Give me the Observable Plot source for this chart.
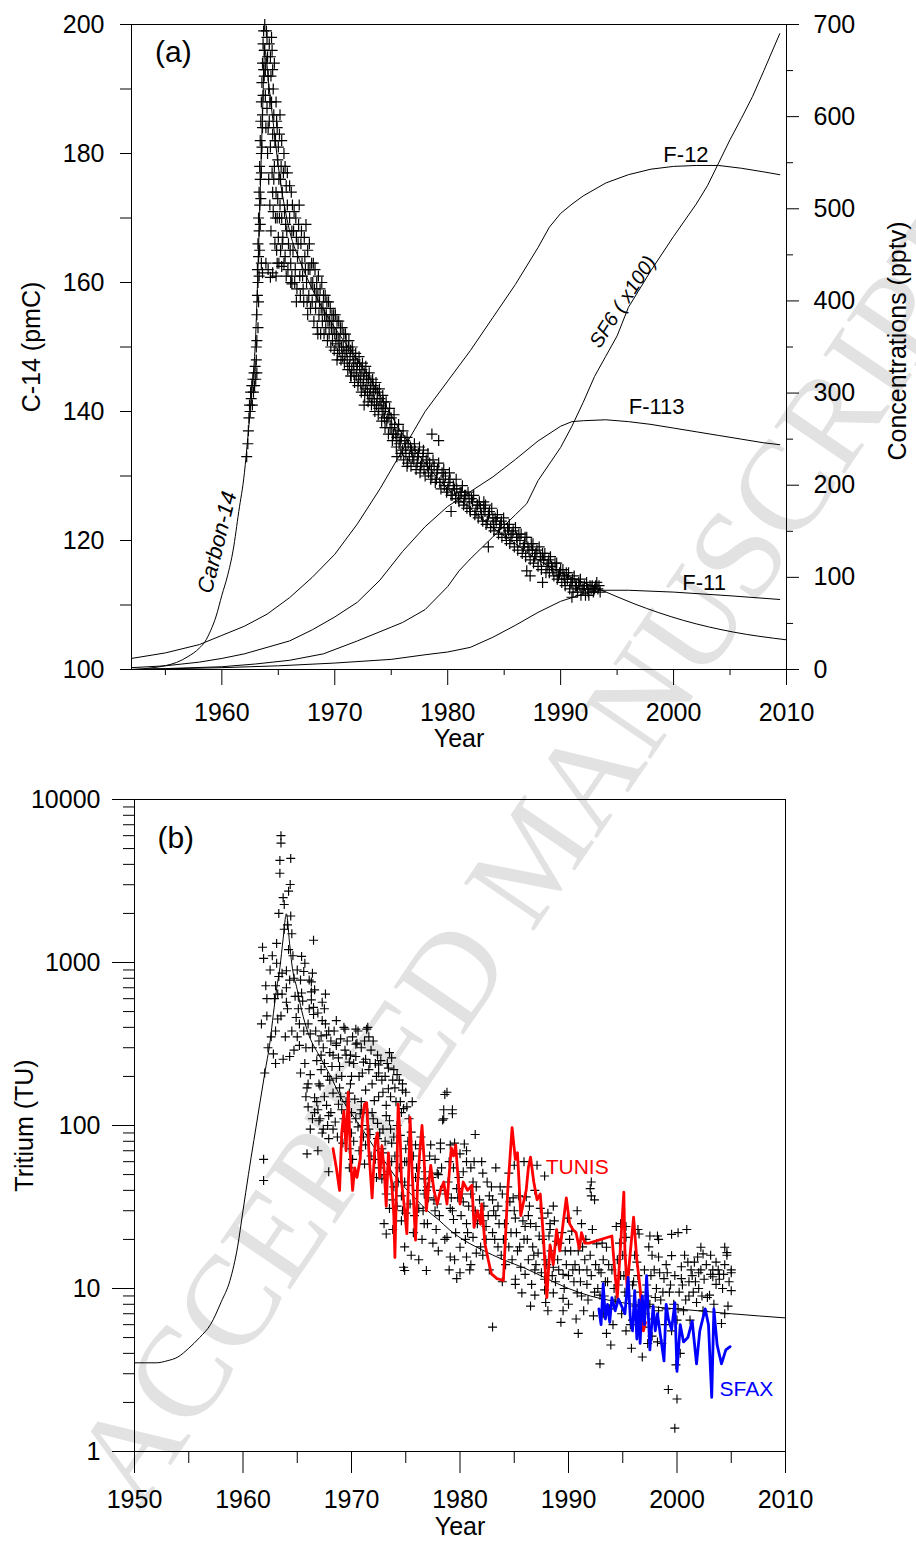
<!DOCTYPE html>
<html><head><meta charset="utf-8">
<script src="https://cdn.jsdelivr.net/npm/d3@7"></script>
<script src="https://cdn.jsdelivr.net/npm/@observablehq/plot@0.6"></script>
<style>
html,body{margin:0;padding:0;background:#fff;}
#wrap{position:relative;width:916px;height:1542px;overflow:hidden;background:#fff;}
#wm,#a,#b{position:absolute;left:0;}
#wm{top:0;} #a{top:0;} #b{top:770px;}
</style></head><body>
<div id="wrap"><div id="wm"></div><div id="a"></div><div id="b"></div></div>
<script>
// ---------------- DATA : panel (a) ----------------
const yearTicksMajorA = [1960, 1970, 1980, 1990, 2000, 2010];
const yearTicksMinorA = [1955, 1965, 1975, 1985, 1995, 2005];
const c14Ticks = [100, 110, 120, 130, 140, 150, 160, 170, 180, 190, 200];
const pptvTicksMajor = [0, 100, 200, 300, 400, 500, 600, 700];
const pptvTicksMinor = [50, 150, 250, 350, 450, 550, 650];

// atmospheric C-14 input curve (pmC)
const c14CurveYears = [1952, 1953, 1954, 1955, 1956, 1957, 1958, 1958.5, 1959, 1959.5, 1960, 1960.5, 1961, 1961.5, 1962, 1962.3, 1962.6, 1963, 1963.3, 1963.6, 1963.8, 1964.2, 1964.6, 1965, 1966, 1967, 1968, 1970, 1972, 1974, 1976, 1978, 1980, 1982, 1984, 1986, 1988, 1990, 1992, 1993.5, 1996.5, 2000.9, 2005.3, 2010];
const c14CurveValues = [100, 100.1, 100.3, 100.6, 101.1, 102, 103.3, 104.3, 106, 108.3, 111.5, 114.5, 118.5, 124.5, 130.5, 136, 142, 152, 168, 186, 196, 190, 184, 178, 168, 163, 159, 153, 148, 142.5, 136.5, 132, 128, 125, 122, 119.5, 117, 115, 113.5, 112.4, 110.2, 107.6, 105.8, 104.6];

// tracer curves (pptv, right axis)
const f12Years = [1952, 1955, 1958, 1960, 1962, 1964, 1966, 1968, 1970, 1972, 1974, 1976, 1978, 1980, 1982, 1984, 1986, 1988, 1989, 1990, 1991, 1992, 1994, 1996, 1998, 2000, 2002, 2004, 2006, 2008, 2009.4];
const f12Values = [12, 18, 27, 37, 47, 60, 78, 100, 125, 158, 196, 238, 280, 313, 346, 382, 418, 458, 480, 495, 505, 514, 528, 537, 543, 546, 547, 547, 544, 540, 537];
const f113Years = [1952, 1955, 1958, 1960, 1962, 1964, 1966, 1968, 1970, 1972, 1974, 1976, 1978, 1980, 1982, 1984, 1986, 1988, 1990, 1991, 1992, 1994, 1996, 1998, 2000, 2002, 2004, 2006, 2008, 2009.4];
const f113Values = [2, 4, 8, 12, 17, 24, 31, 43, 57, 73, 97, 128, 155, 177, 193, 209, 228, 248, 264, 269, 270, 271, 269, 266, 262, 258, 254, 250, 246, 244];
const sf6Years = [1952, 1955, 1960, 1963, 1966, 1969, 1972, 1975, 1976, 1978, 1980, 1981, 1982, 1984, 1986, 1987, 1988, 1990, 1991, 1992, 1993, 1994, 1995, 1996, 1998, 2000, 2002, 2003, 2004, 2005, 2006, 2007, 2008, 2009.4];
const sf6Values = [0, 1, 3, 6, 10, 17, 31, 46, 51, 65, 90, 107, 120, 144, 168, 180, 205, 241, 264, 290, 318, 340, 362, 393, 433, 470, 505, 525, 550, 575, 598, 622, 650, 690];
const f11Years = [1952, 1960, 1965, 1970, 1975, 1978, 1980, 1982, 1984, 1986, 1988, 1990, 1992, 1993.5, 1996, 2000, 2005, 2009.4];
const f11Values = [0, 2, 4, 7, 11, 16, 19, 24, 35, 48, 62, 74, 82, 86, 86, 84, 80, 76];

// C-14 measurements (year, pmC)
const c14Samples = [
[1962.2,133],[1962.3,135],[1962.35,137],[1962.4,139],[1962.45,141],[1962.5,140],[1962.55,143],[1962.6,142],[1962.65,144],[1962.7,141],[1962.75,145],[1962.8,143],[1962.85,146],[1962.9,144],[1962.95,147],[1963.0,145],[1963.05,148],[1963.1,151],[1963.1,155],[1963.15,158],[1963.15,162],[1963.2,160],[1963.2,166],[1963.25,164],[1963.25,170],[1963.3,168],[1963.3,174],[1963.35,172],[1963.35,178],[1963.4,176],[1963.4,182],[1963.45,185],[1963.5,180],[1963.5,188],[1963.55,191],[1963.6,186],[1963.6,194],[1963.65,197],[1963.7,199],[1963.75,192],
[1963.8,196],[1963.85,189],[1963.9,194],[1963.9,184],[1964.0,198],[1964.0,187],[1964.05,180],[1964.1,192],[1964.15,176],[1964.2,185],[1964.25,172],[1964.3,195],[1964.3,181],[1964.35,168],[1964.4,198],[1964.4,188],[1964.45,177],[1964.5,193],[1964.5,183],[1964.55,171],[1964.6,186],[1964.65,178],[1964.7,166],[1964.75,182],[1964.8,174],[1964.85,185],[1964.9,170],[1964.95,179],[1965.0,167],[1965.05,176],[1965.1,183],[1965.15,172],[1965.2,165],[1965.25,178],[1965.3,170],[1965.35,174],[1965.4,167],[1965.5,180],[1965.55,171],[1965.6,164],[1965.7,175],[1965.75,168],[1965.8,172],[1965.9,166],[1966.0,170],[1966.1,163],[1966.15,174],[1966.2,168],[1966.3,165],[1966.4,171],[1966.5,162],[1966.6,167],[1966.7,164],[1966.8,169],[1966.9,161],[1967.0,166],[1967.1,163],[1967.2,159],[1967.3,167],[1967.4,162],[1967.5,160],[1967.6,165],[1967.7,158],[1967.8,162],[1967.9,160],[1968.0,157],[1968.1,163],[1968.2,159],[1968.3,156],[1968.4,160],[1968.5,158],[1968.6,155],[1968.7,159],[1968.8,156],[1968.9,154],[1969.0,158],[1969.1,155],[1969.2,153],[1969.3,157],[1969.4,154],[1969.5,152],[1969.6,156],[1969.7,153],[1969.8,151],[1969.9,155],[1970.0,152],[1970.1,150.5],[1970.2,154],[1970.3,151],[1970.4,149.5],[1970.5,153],[1970.6,150],[1970.7,148.5],[1970.8,152],[1970.9,149],[1971.0,151],[1971.1,148],[1971.2,150],[1971.3,147],[1971.4,149.5],[1971.5,146.5],[1971.6,149],[1971.7,146],[1971.8,148],[1971.9,145.5],[1972.0,147.5],[1972.1,145],[1972.2,147],[1972.3,144.5],[1972.4,146.5],[1972.5,144],[1972.6,146],[1972.7,143.5],[1972.8,145.5],[1972.9,143],[1973.0,145],[1973.1,142.5],[1973.2,144.5],[1973.3,142],[1973.4,144],[1973.5,141.5],[1973.6,143.5],[1973.7,141],[1973.8,143],[1973.9,140.5],[1974.0,142],[1974.2,140],[1974.3,141.5],[1974.4,139],[1974.5,140.5],[1974.6,138.5],[1974.8,139.5],[1974.9,137.5],[1975.0,139],[1975.2,136.5],[1975.3,138],[1975.5,136],[1975.6,137],[1975.7,135],[1975.9,136],[1976.0,134],[1976.2,135.5],[1976.3,133.5],[1976.5,135],[1976.6,133],[1976.8,134],[1977.0,132.5],[1977.1,134],[1977.3,132],[1977.4,133.5],[1977.6,131.5],[1977.8,133],[1977.9,131],[1978.1,132.5],[1978.3,130.5],[1978.4,132],[1978.6,130],[1978.8,131.5],[1979.0,129.5],[1979.1,131],[1979.3,129],[1979.5,130.5],[1979.7,128.5],[1979.8,130],[1980.0,128],[1980.2,129.5],[1980.3,127],[1980.5,128.5],[1980.7,126.5],[1980.8,128],[1981.0,126],[1981.2,127.5],[1981.4,125.5],[1981.5,127],[1981.7,125],[1981.9,126.5],[1982.0,124.5],[1982.2,126],[1982.4,124],[1982.6,125.5],[1982.7,123.5],[1982.9,125],[1983.1,123],[1983.3,124.5],[1983.4,122.5],[1983.6,124],[1983.8,122],[1984.0,123.5],[1984.1,121.5],[1984.3,123],[1984.5,121],[1984.7,122.5],[1984.8,120.5],[1985.0,122],[1985.2,120],[1985.4,121.5],[1985.5,119.5],[1985.7,121],[1985.9,119],[1986.1,120.5],[1986.2,118.5],[1986.4,120],[1986.6,118],[1986.8,119.5],[1986.9,117.5],[1987.1,119],[1987.3,117],[1987.5,118.5],[1987.6,116.5],[1987.8,118],[1988.0,116],[1988.2,117.5],[1988.3,115.5],[1988.5,117],[1988.7,115],[1988.9,116.5],[1989.0,115],[1989.2,116],[1989.4,114.5],[1989.6,115.5],[1989.7,114],[1989.9,115],[1990.1,113.5],[1990.3,114.5],[1990.4,113],[1990.6,114],[1990.8,112.5],[1991.0,113.5],[1991.1,112],[1991.3,113],[1991.5,112],[1991.7,113],[1991.8,111.5],[1992.0,112.5],[1992.2,111.5],[1992.4,112.5],[1992.5,111.5],[1992.7,112.5],[1992.9,112],[1993.1,113],[1993.3,112.5],[1993.5,112],
[1963.5,163],[1964.3,160.8],[1964.8,161],[1966.2,159.8],[1966.6,157],[1967.6,155],[1968.5,152],[1970.2,148],[1971.4,145.5],[1972.6,141],[1975.5,133],[1976.4,131.5],[1978.6,136.5],[1979.2,135.5],[1980.3,124.5],[1983.2,126],[1983.6,119],[1987.0,115.3],[1987.3,114.5],[1988.4,113.5],[1991.0,111.2],
[1963.6,161.5],[1963.9,163],[1964.1,162],[1964.5,161.5],[1964.9,163],[1965.3,162.5],[1965.7,161],[1966.1,160]
];
const c14SamplesExtra = [
[1963.05,150],[1963.1,146],[1963.2,153],[1963.25,157],[1963.3,161],[1963.35,165],[1963.4,169],[1963.45,173],[1963.5,177],[1963.55,181],[1963.6,184],[1963.65,189],[1963.7,193],[1963.75,196],[1963.8,200],[1963.85,193],[1963.95,199],[1964.05,195],[1964.1,184],[1964.15,190],[1964.2,197],[1964.25,188],[1964.35,192],[1964.45,196],[1964.5,174],[1964.55,190],[1964.6,176],[1964.65,194],[1964.7,182],[1964.75,170],[1964.8,188],[1964.85,165],[1964.9,184],[1964.95,173],[1965.0,181],[1965.05,163],[1965.1,170],[1965.15,186],[1965.2,176],[1965.3,182],[1965.35,166],[1965.45,177],[1965.5,163],[1965.6,178],[1965.65,169],[1965.8,177],[1965.85,162],[1966.0,175],[1966.05,165],[1966.2,161],[1966.25,172],[1966.35,168],[1966.45,160],[1966.55,170],[1966.65,159],[1966.75,166],[1966.85,172],[1966.95,158],[1967.05,168],[1967.15,161],[1967.25,157],[1967.35,164],[1967.45,169],[1967.55,157],[1967.65,162],[1967.75,166],[1967.85,156],[1967.95,163],[1968.05,160],[1968.15,154],[1968.25,162],[1968.35,158],[1968.45,153],[1968.55,161],[1968.65,157],[1968.75,152],[1968.85,160],[1968.95,156],[1969.05,152],[1969.15,158],[1969.25,155],[1969.35,151],[1969.45,157],[1969.55,154],[1969.65,150],[1969.75,155],[1969.85,153],[1969.95,149.5],[1970.05,155],[1970.15,152],[1970.25,149],[1970.35,154],[1970.45,151],[1970.55,148],[1970.65,153],[1970.75,150],[1970.85,147.5],[1970.95,152],[1971.05,149.5],[1971.15,146.5],[1971.25,151],[1971.35,148.5],[1971.45,145.5],[1971.55,150],[1971.65,147.5],[1971.75,144.5],[1971.85,149],[1971.95,146.5],[1972.05,144],[1972.15,148.5],[1972.25,145.5],[1972.35,143],[1972.45,147.5],[1972.55,145],[1972.65,142.5],[1972.75,147],[1972.85,144.5],[1972.95,141.5],[1973.05,146],[1973.15,143.5],[1973.25,141],[1973.35,145],[1973.45,143],[1973.55,140],[1973.65,144.5],[1973.75,142],[1973.85,139.5],[1973.95,143.5],[1974.1,141],[1974.15,138.5],[1974.25,142.5],[1974.35,140],[1974.45,137.5],[1974.55,141.5],[1974.7,139],[1974.75,136.5],[1974.85,140.5],[1975.05,137.5],[1975.1,135.5],[1975.25,139.5],[1975.4,136.5],[1975.45,134.5],[1975.65,138],[1975.8,135.5],[1975.85,133.5],[1976.05,137],[1976.1,132.5],[1976.25,134.5],[1976.4,136],[1976.45,132],[1976.7,134.5],[1976.75,131.5],[1976.9,133],[1977.05,135],[1977.2,131],[1977.35,133],[1977.5,134.5],[1977.55,130.5],[1977.7,132],[1977.85,134],[1978.0,130],[1978.2,131.5],[1978.25,133.5],[1978.5,129.5],[1978.55,131],[1978.7,132.5],[1978.9,129],[1979.05,130.5],[1979.2,132],[1979.4,128],[1979.6,129.5],[1979.65,131],[1979.9,127.5],[1980.1,129],[1980.15,130.5],[1980.4,127],[1980.6,128],[1980.75,129.5],[1980.95,126.5],[1981.1,127.5],[1981.3,128.5],[1981.45,126],[1981.6,127],[1981.8,127.5],[1981.95,125],[1982.1,126.5],[1982.3,127],[1982.5,124.5],[1982.65,125.5],[1982.8,126],[1983.0,124],[1983.2,125],[1983.35,125.5],[1983.5,123],[1983.7,124.5],[1983.9,125],[1984.05,122.5],[1984.2,123.5],[1984.4,124],[1984.6,122],[1984.75,123],[1984.95,123.5],[1985.1,121],[1985.3,122],[1985.45,122.5],[1985.6,120.5],[1985.8,121.5],[1986.0,122],[1986.15,120],[1986.3,121],[1986.5,121],[1986.7,119],[1986.85,120.5],[1987.0,120.5],[1987.2,118.5],[1987.4,119.5],[1987.55,119.5],[1987.7,117.5],[1987.9,118.5],[1988.1,119],[1988.25,117],[1988.4,118],[1988.6,118],[1988.8,116],[1988.95,117],[1989.1,117.5],[1989.3,115.5],[1989.5,116.5],[1989.65,116.5],[1989.8,114.5],[1990.0,115.5],[1990.2,115.5],[1990.35,114],[1990.5,115],[1990.7,115],[1990.9,113.5],[1991.05,114],[1991.2,114.5],[1991.4,113],[1991.6,113.5],[1991.75,114],[1991.9,112.5],[1992.1,113],[1992.3,113.5],[1992.45,112],[1992.6,113],[1992.8,113],[1993.0,112.5],[1993.2,113.5],[1993.4,113]
];

// ---------------- DATA : panel (b) ----------------
const yearTicksMajorB = [1950, 1960, 1970, 1980, 1990, 2000, 2010];
const yearTicksMinorB = [1955, 1965, 1975, 1985, 1995, 2005];
const tuTicksMajor = [1, 10, 100, 1000, 10000];
const tuTicksMinor = [2,3,4,5,6,7,8,9,20,30,40,50,60,70,80,90,200,300,400,500,600,700,800,900,2000,3000,4000,5000,6000,7000,8000,9000];

const tritiumModelYears = [1950, 1951, 1952, 1953, 1954, 1955, 1956, 1957, 1958, 1958.8, 1959.5, 1960, 1960.5, 1961, 1961.5, 1962, 1962.5, 1962.8, 1963.1, 1963.4, 1963.7, 1964, 1964.3, 1964.5, 1965, 1965.4, 1966, 1967, 1968, 1969, 1970, 1971, 1972, 1973, 1974, 1975, 1976, 1977, 1978, 1979, 1980, 1982, 1984, 1986, 1988, 1990, 1992, 1994, 1996, 1998, 2000, 2005, 2010];
const tritiumModelValues = [3.5, 3.5, 3.5, 3.6, 3.8, 4.3, 5.0, 6.0, 8.3, 11.2, 18, 30, 50, 81, 130, 208, 330, 485, 690, 930, 1400, 1990, 1300, 980, 680, 510, 370, 270, 205, 150, 118, 95, 75, 61, 49, 41, 35, 30, 26.5, 23, 20.5, 17.3, 15, 13.3, 11.5, 10, 9.0, 8.4, 8.0, 7.7, 7.5, 7.0, 6.6];

const tritiumSamples = [
[1961.7,420],[1961.8,1240],[1961.9,1060],[1961.9,62],[1961.9,46],[1962.0,210],[1962.1,720],[1962.2,600],[1962.2,470],[1962.3,300],
[1962.8,275],[1962.9,600],[1963.0,240],[1963.0,380],[1963.0,720],[1963.1,990],[1963.1,1310],[1963.2,640],[1963.3,820],[1963.3,2000],[1963.4,3530],[1963.4,4230],[1963.5,5400],[1963.5,6000],[1963.5,470],[1963.6,860],[1963.6,640],[1963.7,2500],[1963.7,255],[1963.8,2270],[1963.9,350],[1964.0,570],[1964.0,700],[1964.0,890],[1964.1,1700],[1964.2,1200],[1964.2,2740],[1964.3,265],[1964.35,3010],[1964.4,1930],[1964.4,4350],[1964.5,1500],[1964.6,1100],
[1964.9,460],[1965.0,350],[1965.2,310],[1965.3,210],[1965.3,780],[1965.4,1090],[1965.5,580],[1965.7,240],[1965.9,67],[1966.0,180],[1966.2,205],[1966.2,365],[1966.3,660],[1966.3,760],[1966.3,590],[1966.4,860],[1966.5,1370],[1966.5,480],[1966.5,530],[1966.9,70],[1967.0,180],[1967.2,270],[1967.2,355],[1967.2,220],[1967.3,440],[1967.3,570],[1967.6,640],[1967.6,420],[1967.9,52],[1965.8,150],[1966.0,130],[1966.6,120],[1966.8,140],[1967.1,110],[1967.4,95],
[1968.3,270],[1968.6,440],[1968.6,310],[1968.6,320],[1968.6,195],[1969.3,400],[1969.4,290],[1969.4,390],[1969.5,270],[1969.8,245],[1970.0,200],[1970.4,390],[1970.4,315],[1970.4,265],[1970.5,320],[1970.6,380],[1970.7,200],[1971.1,245],[1971.3,255],[1971.4,390],[1971.5,400],[1971.6,350],[1971.6,220],[1971.7,240],[1972.2,240],[1972.4,270],[1972.5,235],[1972.5,210],[1972.8,190],[1973.4,225],[1973.5,280],[1973.7,260],[1973.8,190],[1974.0,170],[1974.2,205],[1974.7,180],[1974.7,165],
[1965.9,170],[1966.6,148],[1967.0,107],[1967.1,175],[1967.7,133],[1967.9,115],[1967.9,83],[1968.3,158],[1968.3,95],[1968.8,135],[1969.3,110],[1969.6,92],[1969.8,158],[1969.8,72],[1969.8,55],[1970.2,80],[1970.3,145],[1970.6,98],[1970.8,118],[1971.3,165],[1971.3,76],[1972.1,142],[1972.4,103],[1972.4,83],[1972.5,150],[1972.5,55],[1972.8,72],[1972.8,47],[1973.0,25],[1973.2,21.6],[1973.2,133],[1973.2,115],[1973.2,38],[1973.4,168],[1973.5,107],[1973.5,31],[1973.7,78],[1973.7,60],[1973.8,23],[1974.3,45],[1974.5,140],[1974.5,87],[1974.6,37],[1974.6,26],[1974.8,127],[1974.8,13.5],[1974.9,18],[1974.9,12.9],[1975.0,72],[1975.0,29],[1975.1,130],[1975.1,60],[1975.2,43],[1975.5,91],[1975.5,16],[1975.9,76],[1976.2,31],[1976.2,15],[1976.7,61],[1976.7,47],[1976.7,38],[1976.7,25],[1976.9,12.9],[1977.3,76],[1977.5,19],[1977.7,30],[1977.9,51],[1978.0,17],[1978.2,72],[1978.2,40],[1978.2,78],[1978.4,108],[1978.5,125],[1978.5,110],[1978.6,155],[1978.6,20],[1978.8,160],[1978.8,20.6],[1979.0,13],[1979.1,76],[1979.1,31],[1979.1,15.6],[1979.3,118],[1979.3,125],[1979.4,55],[1979.4,26.5],[1979.5,78],[1979.5,15],[1979.7,41],[1979.7,11.5],[1980.0,67],[1980.0,17.9],[1980.0,12.5],[1980.3,34],[1980.4,77],[1980.6,70],[1980.6,60],[1980.6,25],[1980.6,15.6],[1980.9,13],[1981.2,45],[1981.2,20.6],[1981.4,88],[1981.6,25],[1981.8,35],[1982.1,51],[1982.1,26],[1982.1,16],[1982.7,37],[1982.7,13],[1983.0,5.8],[1983.1,30],[1983.3,55],[1983.3,28],[1983.7,42],[1983.9,38],[1983.9,11],[1984.2,14],[1984.5,51],[1984.6,34],[1984.9,36],[1985.0,57],[1985.1,27],[1985.1,11.4],[1985.1,10.6],[1985.4,37],[1985.7,9.4],[1985.9,60],[1986.0,12.2],[1986.1,36.5],[1986.3,28],[1986.5,25],[1986.6,10.6],[1986.9,40],[1986.9,13],[1986.9,9.1],[1987.1,57],[1987.4,31],[1987.8,49],[1987.8,11.4],[1987.8,9.8],[1988.1,29],[1988.1,7.3],[1988.3,23],[1988.3,25],[1988.6,13.5],[1988.6,9.4],[1989.5,12.2],[1989.5,8.7],[1989.5,7.3],[1990.4,13],[1990.8,9.4],[1991.4,7.3],[1991.7,10.6],[1992.0,41],[1992.6,18.8],[1992.9,9.1],[1992.9,3.45],[1993.2,7],[1993.5,17.9],[1993.5,5.3],[1994.1,6],[1994.4,24],[1994.8,25],[1995.3,20.6],[1995.3,24],[1995.3,5.5],[1995.9,6.4],[1996.4,23],[1996.5,21.6],[1997.1,7],[1997.4,18],[1997.5,21],[1997.7,16],[1997.7,5.1],[1998.2,21],[1998.2,4.7],[1998.3,20],[1998.3,15.6],[1998.3,7.3],[1998.6,4.6],[1998.9,6],[1999.2,2.4],[1999.5,21.5],[1999.5,15.9],[1999.5,5.5],[1999.8,1.39],[2000.0,2.1],[2000.0,6.4],[2000.1,22],[2000.4,13.6],[2000.6,7.3],[2000.9,23],[2001.0,14.5],[2001.2,6.4],[2001.3,13],[2001.8,8.2],[2001.9,15.6],[2002.2,17.9],[2002.2,13],[2002.4,7.3],[2002.4,16.3],[2002.5,11.4],[2003.0,9.1],[2003.1,12.2],[2003.3,11.8],[2003.3,13],[2003.6,10.6],[2003.6,14.5],[2003.9,11.4],[2003.9,12.2],[2004.1,6.1],[2004.3,12.2],[2004.4,17.9],[2004.4,14],[2004.4,7],[2004.6,16.6],[2004.6,16],[2004.7,7.8],[2005.0,12.5],[2005.0,9.7],[2005.0,13],
[1984.5,18],[1984.8,15],[1985.3,17],[1985.6,13.5],[1985.9,20],[1986.3,15],[1986.7,18],[1987.0,14],[1987.2,16.5],[1987.5,12.5],[1987.6,20],[1988.0,14],[1988.4,17],[1988.8,11],[1989.0,15],[1989.2,19],[1989.6,10],[1989.8,14],[1990.0,8],[1990.2,17],[1990.5,11],[1990.7,6.5],[1991.0,13],[1991.2,9],[1991.5,15],[1991.8,8.5],[1992.1,12],[1992.3,6.8],[1992.5,14],[1992.7,10],[1993.0,12.5],[1993.3,9],[1993.6,11],[1993.8,7.5],[1994.0,13],[1994.3,8.5],[1994.6,10.5],[1994.9,7],[1995.1,12],[1995.5,9],[1995.7,6],[1996.0,11],[1996.2,7.8],[1996.6,9.5],[1996.9,5.8],[1997.2,10.5],[1997.5,8],[1997.9,6.5],[1998.1,10],[1998.5,8.5],[1998.8,11.5],[1999.0,7.5],[1999.3,9.5],[1999.7,8],[2000.2,9.5],[2000.5,10.5],[2000.8,8.5],[2001.5,9.5],[2001.7,11],[2002.0,10],[2002.8,8.8],[1984.0,20],[1983.5,18],[1983.0,22],[1982.4,20],[1981.9,18],[1981.5,16.5],[1981.0,14],[1986.5,7.8],[1987.9,8.2],[1989.3,6.2],[1990.9,5.3],[1993.9,4.5],[1995.8,4.3],[1996.8,3.8],[1997.3,4.6],[1999.9,3.4],[2000.3,4],[1996.3,14.5],[1995.0,16],[1994.7,19],[1997.9,13],[1999.1,12.5],[2001.1,11],[1985.2,22],[1986.0,24],[1987.3,21],[1988.9,19.5],[1990.3,22.5],[1991.2,25],[1991.6,20],[1992.2,23],[1993.1,19],[1989.9,27],[1990.8,30],[1988.6,32],[1992.1,37],[1992.1,45],[1992.4,35],
[1976.0,55],[1976.4,85],[1977.0,42],[1977.2,65],[1977.6,35],[1978.0,50],[1978.9,45],[1979.2,36],[1979.9,48],[1980.2,38],[1980.8,32],[1981.0,55],[1981.5,42],[1982.0,60],[1982.5,45],[1983.0,35],[1983.6,25],[1984.3,30],[1982.6,28],[1981.4,30],[1980.5,20],[1979.6,22],[1977.8,23],[1976.5,20],[1975.7,22],[1974.2,32],[1973.9,42],[1973.0,50],[1972.2,62],[1971.7,88],[1971.0,100],[1970.0,120],[1969.0,150],[1968.0,190],[1971.9,120],[1970.9,140],[1969.9,180],[1968.9,230],[1972.9,95],[1973.9,85],[1974.9,60],[1975.9,48],[1976.9,40],[1977.9,33]
];
const tritiumSamplesExtra = [
[1962.5,900],[1962.6,350],[1962.7,1100],[1963.2,450],[1963.8,1600],[1964.1,520],[1964.3,780],[1964.5,380],[1964.7,290],[1965.1,620],[1965.7,990],[1966.1,780],[1966.6,680],[1966.9,490],[1967.5,520],[1967.9,380],
[1964.7,800],[1964.8,620],[1965.0,900],[1965.1,520],[1965.2,420],[1965.4,650],[1965.6,380],[1965.6,880],[1965.8,300],[1966.0,420],[1966.1,520],[1966.4,300],[1966.7,380],[1966.8,250],[1967.0,330],[1967.4,300],[1967.5,240],[1967.7,360],[1967.8,200],[1968.0,280],[1968.1,330],[1968.2,230],[1968.4,380],[1968.8,260],[1969.0,340],[1969.1,200],[1969.6,330],[1969.9,270],[1970.1,350],[1970.2,240],[1970.9,300],[1971.0,210],[1971.2,330],[1971.8,290],[1971.9,180],[1972.0,330],[1972.3,200],[1972.7,250],[1972.9,160],[1973.1,200],[1973.3,240],[1973.6,150],[1973.9,220],[1974.1,140],[1974.4,190],[1974.6,120],[1975.0,160],[1975.3,110],[1975.6,140],
[1966.2,95],[1966.4,110],[1966.9,125],[1967.3,90],[1967.5,150],[1967.8,100],[1968.1,120],[1968.5,105],[1968.7,85],[1968.9,170],[1969.1,125],[1969.2,78],[1969.5,140],[1969.7,105],[1970.0,90],[1970.1,62],[1970.4,110],[1970.7,70],[1970.9,125],[1971.1,85],[1971.2,58],[1971.5,120],[1971.6,95],[1971.8,65],[1972.0,110],[1972.3,48],[1972.6,90],[1972.9,68],[1973.1,80],[1973.3,52],[1973.6,95],[1973.8,35],[1974.0,65],[1974.2,100],[1974.4,55],[1974.7,30],[1974.9,45],[1975.2,80],[1975.4,33],[1975.7,65],[1975.8,28],[1976.0,40],[1976.3,72],[1976.6,30],[1976.8,52],[1977.0,25],[1977.1,36],[1977.4,48],[1977.7,62],[1978.1,28],[1978.3,55],[1978.7,38],[1979.0,60],[1979.3,30],[1979.8,36],[1980.1,28],[1980.3,52],[1980.7,22],[1981.0,38],[1981.3,60],[1981.7,28],[1982.2,32],[1982.4,24],[1982.9,42],[1983.2,20],[1983.5,32],[1983.8,16],[1984.1,25],[1984.4,42],[1984.7,22],[1985.0,30],[1985.5,18],[1985.8,26],[1986.2,20],[1986.4,32],[1986.8,16],[1987.0,24],[1987.6,27],[1987.9,15],[1988.2,21],[1988.5,12],[1988.7,26],[1989.1,13],[1989.4,22],[1989.7,17],[1990.0,12],[1990.1,20],[1990.6,14],[1990.9,17],[1991.1,11],[1991.3,18],[1991.7,13],[1992.0,16],[1992.4,9.5],[1992.8,13],[1993.2,15],[1993.4,11],[1993.7,14],[1994.2,10],[1994.5,15],[1994.8,12],[1995.2,9.5],[1995.6,13],[1995.9,10.5],[1996.1,16],[1996.4,12],[1996.7,7],[1997.0,13],[1997.3,9],[1997.6,12],[1998.0,8.8],[1998.4,12.5],[1998.7,9.5],[1999.0,14],[1999.4,10.5],[1999.8,12],[2000.1,7.5],[2000.4,11.5],[2000.7,16],[2001.1,9],[2001.4,12],[2001.6,14.5],[2002.0,12.5],[2002.3,9],[2002.7,14],[2003.1,16],[2003.4,8],[2003.8,13],[2004.2,10],[2004.8,11]
];

const tunisSeries = [
[1968.3,72],[1968.6,55],[1968.9,40],[1969.1,90],[1969.3,123],[1969.5,70],[1969.7,160],[1969.9,65],[1970.1,40],[1970.3,55],[1970.5,48],[1970.8,62],[1971.0,110],[1971.2,135],[1971.4,138],[1971.6,70],[1971.9,36],[1972.1,65],[1972.2,80],[1972.4,90],[1972.6,48],[1972.8,75],[1973.0,55],[1973.2,32],[1973.4,68],[1973.5,55],[1973.7,45],[1973.9,28],[1974.0,15.5],[1974.2,60],[1974.3,135],[1974.5,80],[1974.6,46],[1974.8,35],[1975.1,21.7],[1975.3,60],[1975.4,112],[1975.6,50],[1975.9,19.8],[1976.1,45],[1976.3,70],[1976.5,100],[1976.7,60],[1976.9,30],[1977.1,42],[1977.3,57],[1977.6,40],[1977.9,33],[1978.2,40],[1978.5,45],[1978.8,33],[1979.0,50],[1979.2,73],[1979.4,65],[1979.6,76],[1979.8,50],[1980.0,33],[1980.3,45],[1980.7,40],[1981.1,43],[1981.3,23.7],[1981.6,30],[1981.9,24.8],[1982.0,33],[1982.3,18.8],[1982.6,15],[1982.9,12.3],[1983.4,11.5],[1984.0,11.2],[1984.4,40],[1984.8,97],[1985.1,62],[1985.3,68],[1985.6,28],[1985.9,35],[1986.1,40],[1986.3,55],[1986.5,64],[1986.8,45],[1987.1,35],[1987.4,38],[1987.7,20],[1988.0,8.8],[1988.3,18.5],[1988.6,14],[1988.9,23],[1989.2,17],[1989.5,25],[1989.8,36],[1990.1,25],[1990.4,23],[1990.7,22],[1991.0,17.5],[1991.2,22],[1991.5,19],[1991.9,19],[1994.0,21],[1994.3,12],[1994.5,8.8],[1995.1,39],[1995.2,17],[1995.4,10.2],[1996.0,27.4],[1996.3,15],[1996.6,10],[1996.9,5.5],[1997.1,6.2]
];
const sfaxSeries = [
[1992.8,7.5],[1993.0,6],[1993.1,8],[1993.2,10.7],[1993.4,6.5],[1993.6,8],[1993.8,6.2],[1994.0,8.8],[1994.3,7.3],[1994.6,8.6],[1994.9,7.8],[1995.2,7],[1995.5,11.7],[1995.7,6.5],[1995.9,5.5],[1996.1,9.7],[1996.3,4.9],[1996.5,8.5],[1996.6,4.6],[1996.8,9],[1997.0,6],[1997.2,12],[1997.5,4.2],[1997.8,7.8],[1998.0,5.5],[1998.2,7],[1998.5,5],[1998.8,3.6],[1999.0,8],[1999.2,6.5],[1999.5,5.6],[1999.8,8.2],[2000.0,3.1],[2000.3,6],[2000.6,4.7],[2001.0,5],[2001.4,6.3],[2001.8,3.45],[2002.1,5.5],[2002.6,7.5],[2002.9,6],[2003.2,2.15],[2003.4,7.5],[2003.7,4.5],[2004.1,3.45],[2004.5,4.2],[2004.9,4.4]
];

// ---------------- helpers ----------------
const FONT = "Arial, 'Liberation Sans', Helvetica, sans-serif";
const toLeft = v => 100 + v / 7;               // right axis pptv -> left axis pmC scale
const zip = (xs, ys) => xs.map((x, i) => ({x, y: ys[i]}));
const pairs = arr => arr.map(([x, y]) => ({x, y}));
const plusSymbol = {draw(ctx, size) { const r = Math.sqrt(size / Math.PI); ctx.moveTo(-r, 0); ctx.lineTo(r, 0); ctx.moveTo(0, -r); ctx.lineTo(0, r); }};
const T = {textAnchor: "middle", lineAnchor: "middle"};

// ---------------- panel (a) ----------------
const plotA = Plot.plot({
  width: 916, height: 760,
  marginLeft: 131, marginRight: 130, marginTop: 24, marginBottom: 91,
  style: {fontFamily: FONT, fontSize: "25px", background: "transparent", color: "black", overflow: "visible"},
  x: {domain: [1952, 2010]},
  y: {domain: [100, 200]},
  marks: [
    Plot.frame({stroke: "black", strokeWidth: 1}),
    Plot.axisX({ticks: yearTicksMinorA, tickSize: 6, tickFormat: () => "", label: null}),
    Plot.axisX({ticks: yearTicksMajorA, tickSize: 16, tickPadding: 18, tickFormat: d => String(d), label: null}),
    Plot.axisY({ticks: c14Ticks, tickSize: 11, tickPadding: 16, tickFormat: d => d % 20 === 0 ? String(d) : "", label: null}),
    Plot.axisY({anchor: "right", ticks: pptvTicksMinor.map(toLeft), tickSize: 6, tickFormat: () => "", label: null}),
    Plot.axisY({anchor: "right", ticks: pptvTicksMajor.map(toLeft), tickSize: 12, tickPadding: 15, tickFormat: d => String(Math.round((d - 100) * 7)), label: null}),
    Plot.line(zip(f12Years, f12Values.map(toLeft)), {x: "x", y: "y", stroke: "black", strokeWidth: 1}),
    Plot.line(zip(f113Years, f113Values.map(toLeft)), {x: "x", y: "y", stroke: "black", strokeWidth: 1}),
    Plot.line(zip(sf6Years, sf6Values.map(toLeft)), {x: "x", y: "y", stroke: "black", strokeWidth: 1}),
    Plot.line(zip(f11Years, f11Values.map(toLeft)), {x: "x", y: "y", stroke: "black", strokeWidth: 1}),
    Plot.dot(pairs(c14Samples.concat(c14SamplesExtra)), {x: "x", y: "y", symbol: plusSymbol, r: 5.5, fill: "none", stroke: "black", strokeWidth: 1.2}),
    Plot.line(zip(c14CurveYears, c14CurveValues), {x: "x", y: "y", stroke: "black", strokeWidth: 1, curve: "monotone-x"}),
    Plot.text(["(a)"], {x: 1955.7, y: 195.7, fontSize: 30, ...T}),
    Plot.text(["F-12"], {x: 2001.1, y: toLeft(558), fontSize: 22, ...T}),
    Plot.text(["F-113"], {x: 1998.5, y: toLeft(285), fontSize: 22, ...T}),
    Plot.text(["F-11"], {x: 2002.7, y: toLeft(94), fontSize: 22, ...T}),
    Plot.text(["Carbon-14"], {x: 1959.6, y: 119.7, fontSize: 22, fontStyle: "italic", rotate: -76, ...T}),
    Plot.text(["SF6 ( x100)"], {x: 1995.5, y: toLeft(399), fontSize: 20, fontStyle: "italic", rotate: -57, ...T}),
    Plot.text(["C-14 (pmC)"], {frameAnchor: "left", dx: -100, rotate: -90, fontSize: 25, ...T}),
    Plot.text(["Concentrations (pptv)"], {frameAnchor: "right", dx: 111, dy: -6, rotate: -90, fontSize: 25, ...T}),
    Plot.text(["Year"], {frameAnchor: "bottom", dy: 69, fontSize: 25, ...T})
  ]
});
document.getElementById("a").appendChild(plotA);

// ---------------- panel (b) ----------------
const plotB = Plot.plot({
  width: 916, height: 772,
  marginLeft: 134, marginRight: 131, marginTop: 29, marginBottom: 91,
  style: {fontFamily: FONT, fontSize: "25px", background: "transparent", color: "black", overflow: "visible"},
  x: {domain: [1950, 2010]},
  y: {type: "log", domain: [1, 10000]},
  marks: [
    Plot.frame({stroke: "black", strokeWidth: 1}),
    Plot.axisX({ticks: yearTicksMinorB, tickSize: 12, tickFormat: () => "", label: null}),
    Plot.axisX({ticks: yearTicksMajorB, tickSize: 22, tickPadding: 17, tickFormat: d => String(d), label: null}),
    Plot.axisY({ticks: tuTicksMinor, tickSize: 11, tickFormat: () => "", label: null}),
    Plot.axisY({ticks: tuTicksMajor, tickSize: 22, tickPadding: 12, tickFormat: d => String(d), label: null}),
    Plot.dot(pairs(tritiumSamples.concat(tritiumSamplesExtra)), {x: "x", y: "y", symbol: plusSymbol, r: 4.5, fill: "none", stroke: "black", strokeWidth: 1.15}),
    Plot.line(zip(tritiumModelYears, tritiumModelValues), {x: "x", y: "y", stroke: "black", strokeWidth: 1, curve: "monotone-x"}),
    Plot.line(pairs(tunisSeries), {x: "x", y: "y", stroke: "#ff0000", strokeWidth: 2.8, strokeLinejoin: "round"}),
    Plot.line(pairs(sfaxSeries), {x: "x", y: "y", stroke: "#0000ff", strokeWidth: 2.8, strokeLinejoin: "round"}),
    Plot.text(["(b)"], {x: 1953.8, y: 5800, fontSize: 30, ...T}),
    Plot.text(["TUNIS"], {x: 1990.8, y: 55.2, fontSize: 21, fill: "#ff0000", ...T}),
    Plot.text(["SFAX"], {x: 2006.4, y: 2.4, fontSize: 21, fill: "#0000ff", ...T}),
    Plot.text(["Tritium (TU)"], {frameAnchor: "left", dx: -110, rotate: -90, fontSize: 25, ...T}),
    Plot.text(["Year"], {frameAnchor: "bottom", dy: 75, fontSize: 25, ...T})
  ]
});
document.getElementById("b").appendChild(plotB);

// ---------------- watermark ----------------
const wm = d3.select("#wm").append("svg").attr("width", 916).attr("height", 1542);
wm.append("text")
  .attr("transform", "translate(139,1512) rotate(-55.8)")
  .attr("font-family", "'Liberation Serif', 'DejaVu Serif', Times, serif")
  .attr("font-size", 129)
  .attr("fill", "#e2e2e2")
  .text("ACCEPTED MANUSCRIPT");
</script>
</body></html>
